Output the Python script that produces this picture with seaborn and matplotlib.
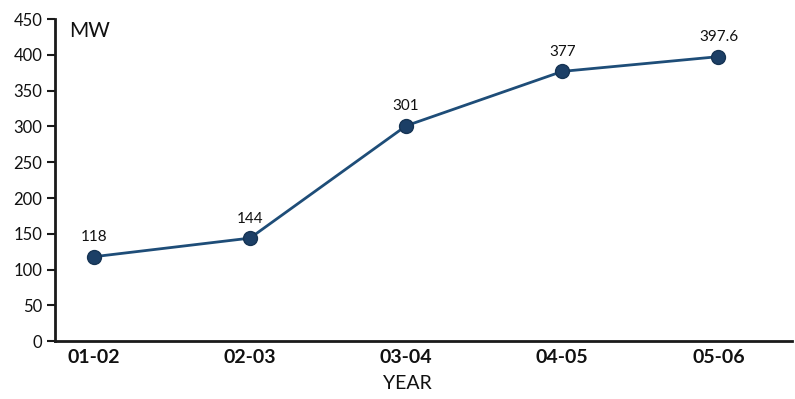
import matplotlib
matplotlib.use("Agg")
import matplotlib.pyplot as plt
import seaborn as sns
import pandas as pd

years = ["01-02", "02-03", "03-04", "04-05", "05-06"]
capacity_mw = [118, 144, 301, 377, 397.6]
value_labels = ["118", "144", "301", "377", "397.6"]
y_ticks = [0, 50, 100, 150, 200, 250, 300, 350, 400, 450]

sns.set_style("white")
plt.rcParams["font.family"] = ["Lato", "DejaVu Sans"]

df = pd.DataFrame({"year": years, "mw": capacity_mw})

fig = plt.figure(figsize=(7.95, 3.99), dpi=100)
ax = fig.add_axes([0.069, 0.145, 0.927, 0.807])

sns.lineplot(data=df, x="year", y="mw", ax=ax, color="#1e4d78", linewidth=2,
             marker="o", markersize=10, markerfacecolor="#1c3f66",
             markeredgecolor="#163454", markeredgewidth=1)

for i, (v, lab) in enumerate(zip(capacity_mw, value_labels)):
    ax.annotate(lab, (i, v), xytext=(0, 9), textcoords="offset points",
                ha="center", va="bottom", fontsize=11, color="#111111")

ax.set_ylim(0, 450)
ax.set_xlim(-0.25, 4.47)
ax.set_yticks(y_ticks)
ax.set_yticklabels([str(t) for t in y_ticks], fontsize=12, color="#111111")
ax.set_xticks(range(len(years)))
ax.set_xticklabels(years, fontsize=14, fontweight="bold", color="#111111")

for side in ["top", "right"]:
    ax.spines[side].set_visible(False)
for side in ["left", "bottom"]:
    ax.spines[side].set_linewidth(2)
    ax.spines[side].set_color("#1a1a1a")

ax.tick_params(axis="y", which="major", direction="out", length=6, width=1.5,
               left=True, color="#1a1a1a", pad=3)
ax.tick_params(axis="x", which="major", length=0, pad=6)

ax.set_xlabel("YEAR", fontsize=14, color="#111111", labelpad=4)
ax.xaxis.set_label_coords(0.479, -0.105)
ax.set_ylabel("")
ax.text(0.02, 0.995, "MW", transform=ax.transAxes, fontsize=15,
        ha="left", va="top", color="#111111")

fig.savefig("out.png", dpi=100, facecolor="white")
